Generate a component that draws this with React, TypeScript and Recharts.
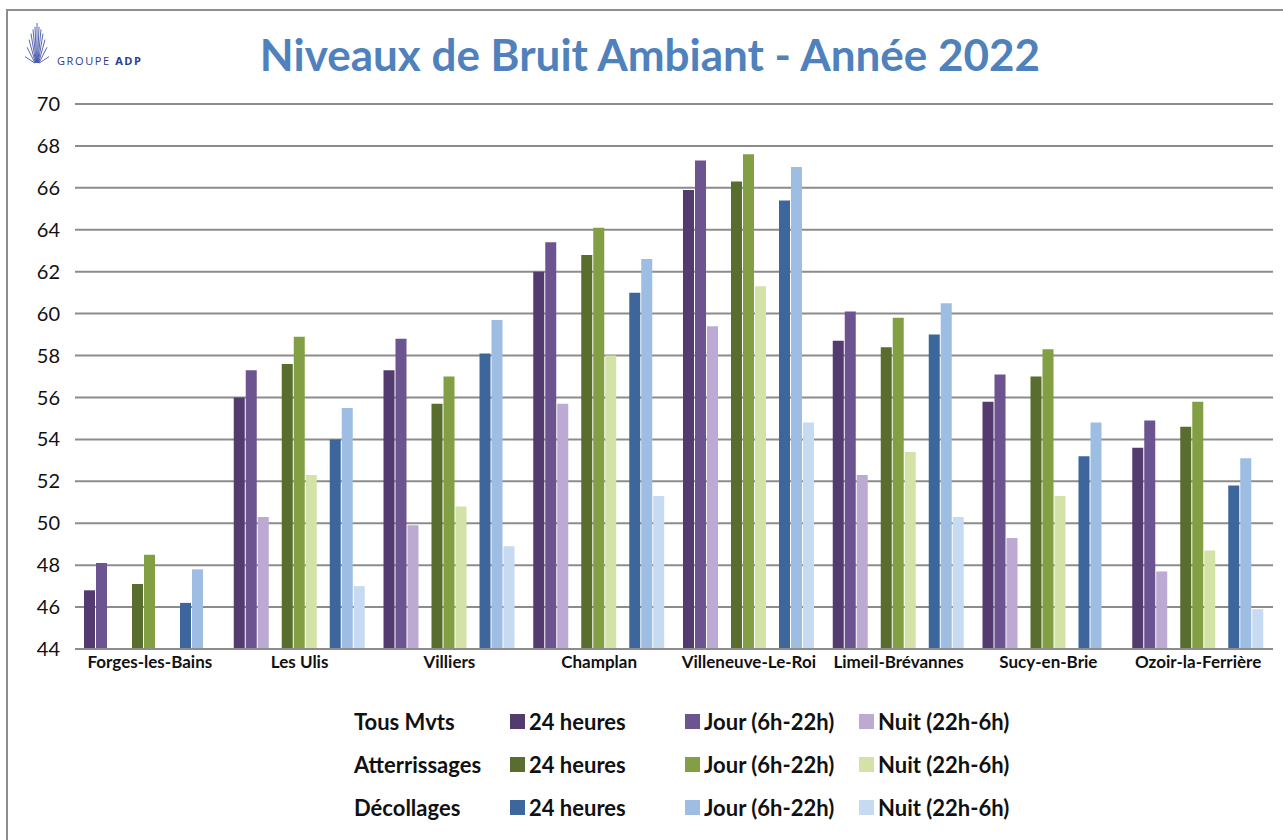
import { BarChart, Bar, XAxis, YAxis, CartesianGrid } from "recharts";

const sites = [
  "Forges-les-Bains",
  "Les Ulis",
  "Villiers",
  "Champlan",
  "Villeneuve-Le-Roi",
  "Limeil-Brévannes",
  "Sucy-en-Brie",
  "Ozoir-la-Ferrière",
];

// Tous mouvements
const tous24h = [46.8, 56.0, 57.3, 62.0, 65.9, 58.7, 55.8, 53.6];
const tousJour = [48.1, 57.3, 58.8, 63.4, 67.3, 60.1, 57.1, 54.9];
const tousNuit = [null, 50.3, 49.9, 55.7, 59.4, 52.3, 49.3, 47.7];
// Atterrissages
const att24h = [47.1, 57.6, 55.7, 62.8, 66.3, 58.4, 57.0, 54.6];
const attJour = [48.5, 58.9, 57.0, 64.1, 67.6, 59.8, 58.3, 55.8];
const attNuit = [null, 52.3, 50.8, 58.0, 61.3, 53.4, 51.3, 48.7];
// Décollages
const dec24h = [46.2, 54.0, 58.1, 61.0, 65.4, 59.0, 53.2, 51.8];
const decJour = [47.8, 55.5, 59.7, 62.6, 67.0, 60.5, 54.8, 53.1];
const decNuit = [null, 47.0, 48.9, 51.3, 54.8, 50.3, null, 45.9];

const yTicks = [44, 46, 48, 50, 52, 54, 56, 58, 60, 62, 64, 66, 68, 70];

const groupLabels = ["Tous Mvts", "Atterrissages", "Décollages"];
const periodLabels = ["24 heures", "Jour (6h-22h)", "Nuit (22h-6h)"];

const COLORS = {
  tous: ["#533b6f", "#6c5490", "#bcaad3"],
  att: ["#596d2e", "#82a043", "#d3e3a8"],
  dec: ["#3d679c", "#9dbde3", "#c6dbf2"],
};

const data = sites.map((site, i) => ({
  site,
  tous24h: tous24h[i],
  tousJour: tousJour[i],
  tousNuit: tousNuit[i],
  gap1: null,
  att24h: att24h[i],
  attJour: attJour[i],
  attNuit: attNuit[i],
  gap2: null,
  dec24h: dec24h[i],
  decJour: decJour[i],
  decNuit: decNuit[i],
}));

const FONT = "Lato, 'Open Sans', sans-serif";

function Logo() {
  // petit éventail du logo ADP
  const rays = [-6, -5, -4, -3, -2, -1, 0, 1, 2, 3, 4, 5, 6];
  return (
    <>
      <svg
        width={40}
        height={46}
        style={{ position: "absolute", left: 17, top: 20 }}
      >
        {rays.map((k) => (
          <line
            key={k}
            x1={20 + k * 0.4}
            y1={43}
            x2={20 + k * 2}
            y2={3 + k * k * 0.85 + (k === 0 ? 0 : 3)}
            stroke="#4454a6"
            strokeWidth={0.9}
          />
        ))}
      </svg>
      <div
        style={{
          position: "absolute",
          left: 57,
          top: 53,
          fontFamily: "'Open Sans', sans-serif",
          fontSize: 11,
          letterSpacing: 1.6,
          color: "#2c3b8d",
          whiteSpace: "nowrap",
        }}
      >
        GROUPE <b>ADP</b>
      </div>
    </>
  );
}

function Legend() {
  const keys = [COLORS.tous, COLORS.att, COLORS.dec];
  const cols = [510, 685, 859];
  const text = {
    fontFamily: FONT,
    fontWeight: 700,
    fontSize: 22,
    color: "#111",
    whiteSpace: "nowrap" as const,
  };
  return (
    <>
      {groupLabels.map((g, r) => (
        <div key={g}>
          <div style={{ ...text, position: "absolute", left: 354, top: 708 + r * 43 }}>
            {g}
          </div>
          {periodLabels.map((p, c) => (
            <div
              key={p}
              style={{
                ...text,
                position: "absolute",
                left: cols[c],
                top: 708 + r * 43,
                display: "flex",
                alignItems: "center",
              }}
            >
              <span
                style={{
                  display: "inline-block",
                  width: 15,
                  height: 15,
                  background: keys[r][c],
                  marginRight: 4,
                }}
              />
              {p}
            </div>
          ))}
        </div>
      ))}
    </>
  );
}

export default function App() {
  return (
    <div
      style={{
        position: "absolute",
        left: 0,
        top: 0,
        width: 1283,
        height: 840,
        overflow: "hidden",
        background: "#fff",
      }}
    >
      <div
        style={{
          position: "absolute",
          left: 6,
          top: 9,
          width: 1400,
          height: 900,
          border: "2px solid #8e8e8e",
        }}
      />
      <Logo />
      <div
        style={{
          position: "absolute",
          left: 0,
          width: 1300,
          top: 28,
          textAlign: "center",
          fontFamily: FONT,
          fontWeight: 700,
          fontSize: 44,
          color: "#4f81bd",
        }}
      >
        Niveaux de Bruit Ambiant - Année 2022
      </div>
      <div style={{ position: "absolute", left: 0, top: 0 }}>
        <BarChart
          width={1283}
          height={690}
          data={data}
          margin={{ top: 104, right: 10, left: 0, bottom: 11 }}
          barCategoryGap={9}
          barGap={1}
        >
          <CartesianGrid
            horizontal
            vertical={false}
            stroke="#8c8c8c"
            strokeWidth={2}
          />
          <XAxis
            dataKey="site"
            tickLine={false}
            tickSize={0}
            tickMargin={7}
            height={30}
            axisLine={{ stroke: "#8c8c8c", strokeWidth: 2 }}
            tick={{ fontFamily: FONT, fontWeight: 700, fontSize: 17, fill: "#111" }}
            interval={0}
          />
          <YAxis
            width={75}
            domain={[44, 70]}
            ticks={yTicks}
            interval={0}
            axisLine={false}
            tickLine={false}
            tickSize={0}
            tickMargin={15}
            tick={{ fontFamily: FONT, fontSize: 20, fill: "#111" }}
          />
          <Bar dataKey="tous24h" fill={COLORS.tous[0]} isAnimationActive={false} />
          <Bar dataKey="tousJour" fill={COLORS.tous[1]} isAnimationActive={false} />
          <Bar dataKey="tousNuit" fill={COLORS.tous[2]} isAnimationActive={false} />
          <Bar dataKey="gap1" fill="none" isAnimationActive={false} />
          <Bar dataKey="att24h" fill={COLORS.att[0]} isAnimationActive={false} />
          <Bar dataKey="attJour" fill={COLORS.att[1]} isAnimationActive={false} />
          <Bar dataKey="attNuit" fill={COLORS.att[2]} isAnimationActive={false} />
          <Bar dataKey="gap2" fill="none" isAnimationActive={false} />
          <Bar dataKey="dec24h" fill={COLORS.dec[0]} isAnimationActive={false} />
          <Bar dataKey="decJour" fill={COLORS.dec[1]} isAnimationActive={false} />
          <Bar dataKey="decNuit" fill={COLORS.dec[2]} isAnimationActive={false} />
        </BarChart>
      </div>
      <Legend />
    </div>
  );
}
